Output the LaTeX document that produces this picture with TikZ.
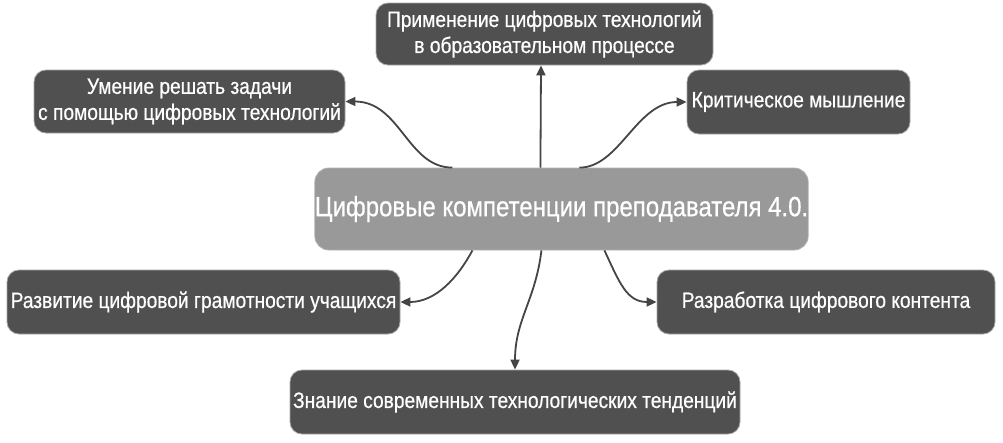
\documentclass[tikz,border=0pt]{standalone}
\usepackage{fontspec}
\setmainfont{Liberation Sans}[FakeStretch=0.86,FakeBold=0.6]
\usetikzlibrary{arrows.meta,calc}
\definecolor{boxdark}{HTML}{505050}
\definecolor{boxmid}{HTML}{999999}
\definecolor{arrowcol}{HTML}{454545}
\tikzset{
  leaf/.style={draw=gray!70, line width=0.8pt, fill=boxdark, rounded corners=12pt,
    text=white, font=\fontsize{22.3}{26}\selectfont, align=center, inner sep=0pt},
  hub/.style={draw=gray!60, line width=0.8pt, fill=boxmid, rounded corners=14pt,
    text=white, font=\fontsize{27.9}{32}\selectfont, align=center, inner sep=0pt},
  link/.style={draw=arrowcol, line width=1.8pt,
    -{Triangle[length=10pt,width=9pt]}}
}
\begin{document}
\begin{tikzpicture}[x=1pt,y=-1pt]
\useasboundingbox[fill=white] (0,0) rectangle (1003,442);
\node[leaf, minimum width=337pt, minimum height=62pt] (t) at (544.5,34)
  {Применение цифровых технологий\\в образовательном процессе};
\node[leaf, minimum width=311pt, minimum height=63pt] (ul) at (189.5,101.5)
  {Умение решать задачи\\с помощью цифровых технологий};
\node[leaf, minimum width=223pt, minimum height=64pt] (cr) at (798.5,102)
  {Критическое мышление};
\node[hub, minimum width=493pt, minimum height=82pt] (c) at (561.5,209)
  {Цифровые компетенции преподавателя 4.0.};
\node[leaf, minimum width=393pt, minimum height=64pt] (ll) at (203.5,302)
  {Развитие цифровой грамотности учащихся};
\node[leaf, minimum width=338pt, minimum height=64pt] (lr) at (826,302)
  {Разработка цифрового контента};
\node[leaf, minimum width=450pt, minimum height=64pt] (b) at (515,402)
  {Знание современных технологических тенденций};
% connectors
\draw[link] ([xshift=226pt]c.north west) -- ([xshift=-3.5pt]t.south);
\draw[link] ([xshift=138pt]c.north west) .. controls +(-45,0) and +(55,0) .. (ul.east);
\draw[link] ([xshift=265pt]c.north west) .. controls +(40,0) and +(-50,0) .. (cr.west);
\draw[link] ([xshift=158pt]c.south west) .. controls +(-15,28) and +(35,0) .. (ll.east);
\draw[link] ([xshift=227pt]c.south west) .. controls +(-6,50) and +(0,-50) .. (b.north);
\draw[link] ([xshift=290pt]c.south west) .. controls +(15,32) and +(-30,0) .. (lr.west);
\end{tikzpicture}
\end{document}
